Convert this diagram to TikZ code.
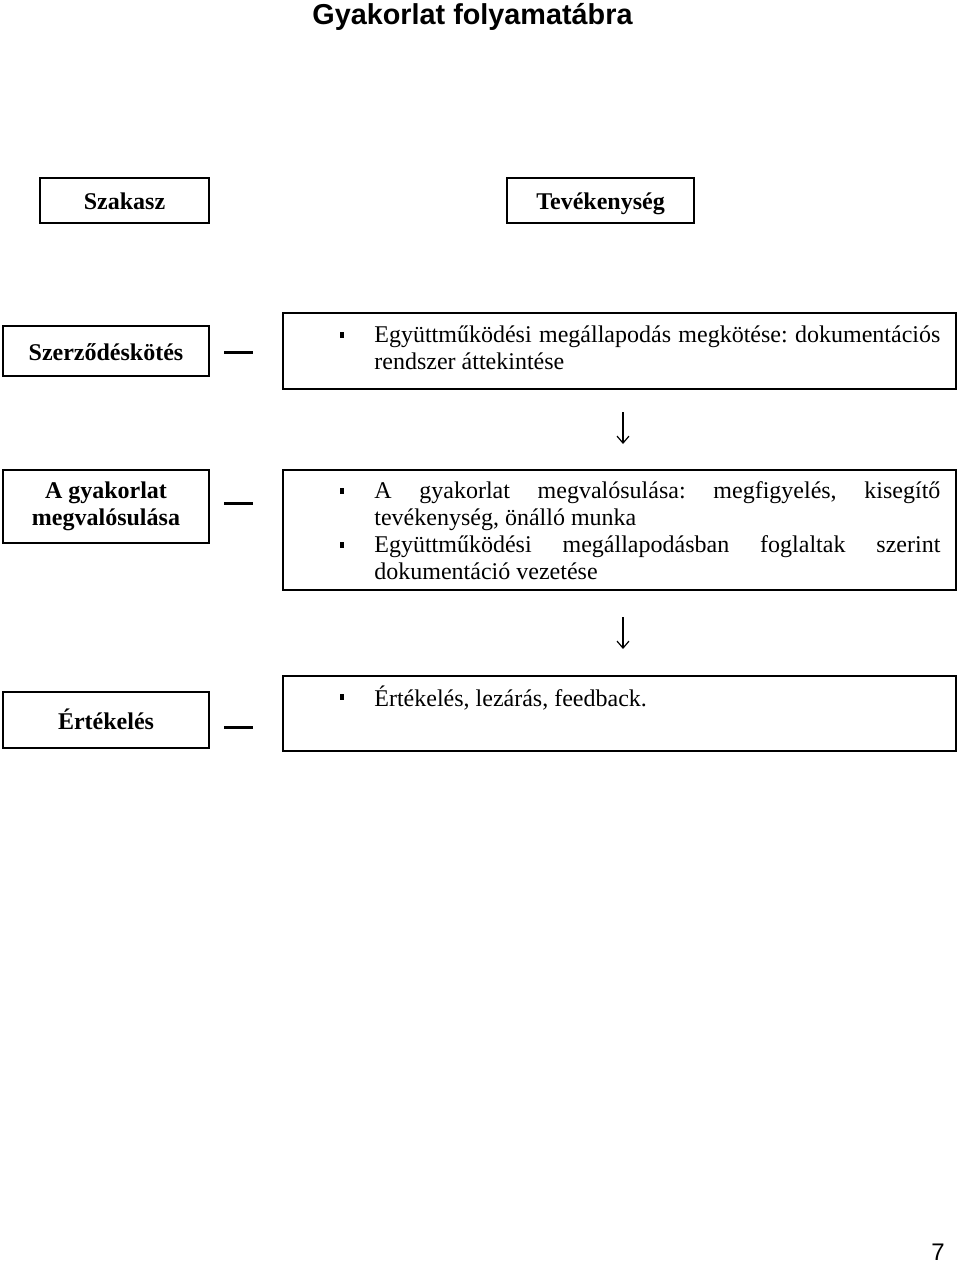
\documentclass[tikz,border=0pt]{standalone}
\usepackage{fontspec}
\setmainfont{Liberation Serif}
\newfontfamily\arialfont{Liberation Sans}
\usetikzlibrary{arrows.meta}
\newcommand\myNoHyph{\frenchspacing\hyphenpenalty 10000 \exhyphenpenalty 10000 \relax}
\begin{document}
\begin{tikzpicture}[x=0.5pt,y=-0.5pt,
  phasebox/.style={draw,line width=1pt,inner sep=0pt,font=\bfseries\fontsize{12pt}{13.5pt}\selectfont,align=center},
  oneline/.style={text height=9.4pt,text depth=0.2pt},
  actbox/.style={draw,line width=1pt,inner sep=0pt,minimum width=336.5pt},
  acttext/.style={anchor=north west,inner sep=0pt,text width=283pt,align=justify,font=\fontsize{12pt}{13.5pt}\selectfont},
  bullet/.style={fill,inner sep=0pt,minimum width=2pt,minimum height=2.7pt},
  linkdash/.style={line width=1.5pt},
  flowarrow/.style={line width=0.6pt,-{Straight Barb[length=3.5pt,width=6pt]}}]
\useasboundingbox (0,0) rectangle (960,1263);
\node[font=\arialfont\bfseries\fontsize{14.4pt}{16pt}\selectfont,anchor=base] (title) at (472.5,25) {Gyakorlat folyamatábra};
% header boxes
\node[phasebox,oneline,minimum width=84.5pt,minimum height=22.5pt] (szakasz) at (124.5,200.5) {Szakasz};
\node[phasebox,oneline,minimum width=93.5pt,minimum height=22.5pt] (tev) at (600.5,200.5) {Tevékenység};
% row 1
\node[phasebox,oneline,minimum width=103pt,minimum height=25pt] (szerz) at (106,351) {Szerződéskötés};
\node[actbox,minimum height=38pt] (act1) at (619.5,351) {};
\node[acttext] (t1) at (374,323) {\myNoHyph\strut Együttműködési megállapodás megkötése: \mbox{dokumentációs} rendszer áttekintése};
\node[bullet] (b1) at (342,335) {};
\coordinate (d1a) at (224,352); \coordinate (d1b) at (253,352);
\draw[linkdash] (d1a) -- (d1b);
% arrow 1
\coordinate (a1s) at (623,412); \coordinate (a1e) at (623,444);
\draw[flowarrow] (a1s) -- (a1e);
% row 2
\node[phasebox,minimum width=103pt,minimum height=36.5pt] (megv) at (106,506.5) {A gyakorlat\\megvalósulása};
\node[actbox,minimum height=60pt] (act2) at (619.5,530) {};
\node[acttext] (t2) at (374,479) {\myNoHyph\strut A gyakorlat megvalósulása: megfigyelés, \mbox{kisegítő} tevékenység, önálló munka\par\strut Együttműködési megállapodásban foglaltak szerint \mbox{dokumentáció} vezetése};
\node[bullet] (b2) at (342,491) {};
\node[bullet] (b3) at (342,545) {};
\coordinate (d2a) at (224,503); \coordinate (d2b) at (253,503);
\draw[linkdash] (d2a) -- (d2b);
% arrow 2
\coordinate (a2s) at (623,617); \coordinate (a2e) at (623,649);
\draw[flowarrow] (a2s) -- (a2e);
% row 3
\node[phasebox,oneline,minimum width=103pt,minimum height=28pt] (ert) at (106,720) {Értékelés};
\node[actbox,minimum height=37.5pt] (act3) at (619.5,713.5) {};
\node[acttext] (t3) at (374,685) {\myNoHyph\strut Értékelés, lezárás, feedback.};
\node[bullet] (b4) at (342,697) {};
\coordinate (d3a) at (224,727); \coordinate (d3b) at (253,727);
\draw[linkdash] (d3a) -- (d3b);
% page number
\node[font=\arialfont\fontsize{12pt}{14pt}\selectfont,anchor=base] (pg) at (938,1260) {7};
\end{tikzpicture}
\end{document}
